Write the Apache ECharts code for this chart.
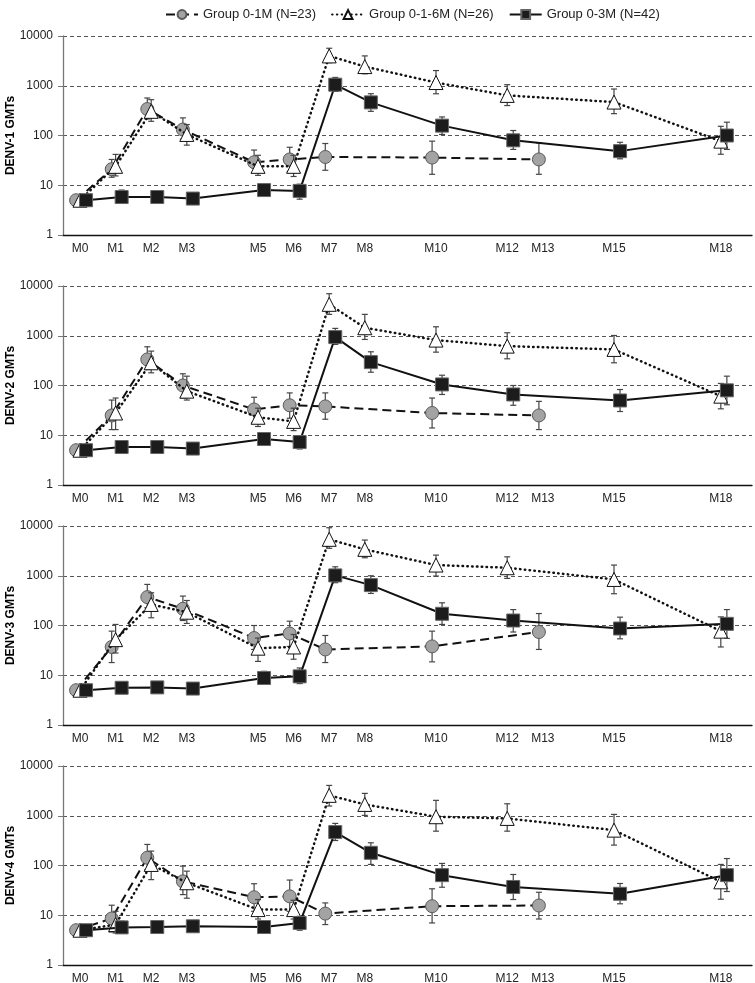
<!DOCTYPE html>
<html><head><meta charset="utf-8">
<script src="https://cdn.jsdelivr.net/npm/echarts@6/dist/echarts.min.js"></script>
<style>html,body{margin:0;padding:0;background:#fff}#c{width:755px;height:983px}</style>
</head><body><div id="c"></div>
<script>
// ---- tick labels / categories ----
const monthTicks = [0,1,2,3,5,6,7,8,10,12,13,15,18];
const seriesNames = ['Group 0-1M (N=23)','Group 0-1-6M (N=26)','Group 0-3M (N=42)'];
const panelTitles = ['DENV-1 GMTs','DENV-2 GMTs','DENV-3 GMTs','DENV-4 GMTs'];

// ---- sampling months per group ----
const g1Months  = [0,1,2,3,5,6,7,10,13];
const g16Months = [0,1,2,3,5,6,7,8,10,12,15,18];
const g3Months  = [0,1,2,3,5,6,7,8,10,12,15,18];

// ---- DENV-1 ----
const d1_g1   = [5, 21, 340, 132, 29, 33, 37, 36, 33];
const d1_g1Lo = [5, 14.5, 215, 85, 18, 19, 20, 16.6, 16.6];
const d1_g1Hi = [5, 33, 567, 226, 51, 58, 69, 77, 71];
const d1_g16   = [5, 24, 306, 105, 24, 24, 3980, 2430, 1160, 640, 470, 77];
const d1_g16Lo = [5, 15.4, 193, 64, 15.8, 15, 2900, 1740, 690, 400, 275, 42];
const d1_g16Hi = [5, 41.7, 525, 166, 40, 40, 5670, 3980, 2020, 1050, 860, 153];
const d1_g3   = [5, 5.8, 5.8, 5.4, 8.0, 7.7, 1050, 463, 158, 80, 48.5, 100];
const d1_g3Lo = [5, 4.4, 4.8, 4.6, 6.3, 5.25, 770, 306, 105, 52.5, 34, 52.5];
const d1_g3Hi = [5, 8.0, 7.0, 6.3, 10.2, 10.5, 1470, 692, 236, 126, 73, 185];

// ---- DENV-2 ----
const d2_g1   = [5, 25, 334, 100, 33, 40, 38, 28, 25];
const d2_g1Lo = [5, 13, 210, 56, 18, 22, 21, 14, 13];
const d2_g1Hi = [5, 51, 600, 172, 58, 71, 71, 56, 48];
const d2_g16   = [5, 28, 286, 77, 23, 19, 4280, 1450, 818, 619, 531, 61];
const d2_g16Lo = [5, 13, 180, 51, 15, 12.4, 2690, 843, 468, 344, 286, 34];
const d2_g16Hi = [5, 56, 491, 154, 35, 35, 7000, 2690, 1514, 1148, 1012, 110];
const d2_g3   = [5, 5.8, 5.8, 5.4, 8.4, 7.3, 940, 295, 105, 66, 50, 80];
const d2_g3Lo = [5, 4.5, 4.8, 4.7, 6.5, 5.3, 670, 185, 66, 40, 30, 41];
const d2_g3Hi = [5, 7.5, 6.9, 6.2, 10.8, 9.8, 1406, 476, 161, 100, 83, 154];

// ---- DENV-3 ----
const d3_g1   = [5, 37, 372, 217, 56, 69, 33, 38, 74];
const d3_g1Lo = [5, 18, 227, 126, 33, 38, 18, 18.6, 33];
const d3_g1Hi = [5, 77, 670, 390, 100, 122, 63, 77, 174];
const d3_g16   = [5, 52, 265, 185, 35, 37, 5400, 3390, 1640, 1450, 843, 77];
const d3_g16Lo = [5, 28, 143, 110, 19, 21, 3560, 2300, 985, 884, 435, 37];
const d3_g16Hi = [5, 105, 455, 318, 56, 66, 9240, 5220, 2600, 2400, 1640, 149];
const d3_g3   = [5, 5.6, 5.7, 5.4, 8.8, 9.5, 1016, 648, 172, 126, 87, 108];
const d3_g3Lo = [5, 4.5, 4.8, 4.7, 6.7, 6.8, 725, 441, 105, 74, 54, 55];
const d3_g3Hi = [5, 7.2, 6.8, 6.2, 12, 14, 1514, 1000, 286, 209, 147, 209];

// ---- DENV-4 ----
const d4_g1   = [5, 8.6, 143, 48, 23, 24, 10.8, 15.2, 15.7];
const d4_g1Lo = [5, 4.6, 83, 26, 12, 12, 6.5, 7, 8.4];
const d4_g1Hi = [5, 15.9, 265, 97, 43, 51, 17.7, 34, 29];
const d4_g16   = [5, 6.5, 105, 45, 13, 13, 2570, 1690, 956, 884, 514, 47];
const d4_g16Lo = [5, 4.4, 52, 22, 8.4, 8.4, 1567, 1016, 490, 490, 257, 21];
const d4_g16Hi = [5, 12, 195, 77, 20.7, 20, 4070, 2815, 2040, 1740, 1064, 105];
const d4_g3   = [5, 5.7, 5.8, 6.0, 5.8, 7.0, 469, 180, 64, 37, 27, 64];
const d4_g3Lo = [5, 4.4, 4.9, 5.0, 4.9, 5.0, 318, 105, 36.6, 20.7, 17, 30];
const d4_g3Hi = [5, 7.6, 6.9, 7.2, 6.9, 9.5, 702, 286, 110, 66, 43.5, 138];

const panels = [
  {g1:[d1_g1,d1_g1Lo,d1_g1Hi], g16:[d1_g16,d1_g16Lo,d1_g16Hi], g3:[d1_g3,d1_g3Lo,d1_g3Hi]},
  {g1:[d2_g1,d2_g1Lo,d2_g1Hi], g16:[d2_g16,d2_g16Lo,d2_g16Hi], g3:[d2_g3,d2_g3Lo,d2_g3Hi]},
  {g1:[d3_g1,d3_g1Lo,d3_g1Hi], g16:[d3_g16,d3_g16Lo,d3_g16Hi], g3:[d3_g3,d3_g3Lo,d3_g3Hi]},
  {g1:[d4_g1,d4_g1Lo,d4_g1Hi], g16:[d4_g16,d4_g16Lo,d4_g16Hi], g3:[d4_g3,d4_g3Lo,d4_g3Hi]}
];

// ---- styling ----
const gridTops = [36, 286, 526, 766];
const gridH = 199;
const FONT = 'Liberation Sans, Arial, sans-serif';
const groupStyle = {
  g1:  {months:g1Months,  off:-0.11, name:seriesNames[0], symbol:'circle',   size:13,
        item:{color:'#a3a3a3', borderColor:'#5a5a5a', borderWidth:1},
        line:{color:'#111', width:2, type:[9,5]}, z:2},
  g16: {months:g16Months, off:0,     name:seriesNames[1], symbol:'triangle', size:14,
        item:{color:'#fff', borderColor:'#111', borderWidth:1},
        line:{color:'#111', width:2.5, type:[0.5,4.3], cap:'round'}, z:3},
  g3:  {months:g3Months,  off:0.17,  name:seriesNames[2], symbol:'rect',     size:13,
        item:{color:'#1c1c1c', borderColor:'#666', borderWidth:1},
        line:{color:'#111', width:2, type:'solid'}, z:4}
};

const grids=[], xAxes=[], yAxes=[], series=[];
panels.forEach((p, i) => {
  grids.push({left:63, right:3, top:gridTops[i], height:gridH, containLabel:false, outerBoundsMode:'none'});
  xAxes.push({
    type:'value', gridIndex:i, min:-0.4775, max:18.876,
    axisLine:{show:true, onZero:false, lineStyle:{color:'#111', width:1.3}},
    axisTick:{show:false}, splitLine:{show:false},
    axisLabel:{customValues:monthTicks, formatter:v=>'M'+v, fontSize:12, color:'#222', fontFamily:FONT, margin:8}
  });
  yAxes.push({
    type:'log', logBase:10, gridIndex:i, min:1, max:10000,
    name:panelTitles[i], nameLocation:'middle', nameGap:46, nameRotate:90, nameMoveOverlap:false,
    nameTextStyle:{fontWeight:'bold', fontSize:12, color:'#000', fontFamily:FONT},
    axisLine:{show:true, onZero:false, lineStyle:{color:'#777', width:1.3}},
    axisTick:{show:true, length:5, lineStyle:{color:'#777'}},
    axisLabel:{fontSize:12, color:'#222', fontFamily:FONT, margin:10, formatter:v=>String(Math.round(v))},
    splitLine:{show:true, lineStyle:{color:'#555', type:[4,3], width:1}},
    minorTick:{show:false}
  });
  ['g1','g16','g3'].forEach(k => {
    const st = groupStyle[k];
    const [v, lo, hi] = p[k];
    const pts = st.months.map((m, j) => [m + st.off, v[j]]);
    const bars = st.months.map((m, j) => [m + st.off, lo[j], hi[j]]);
    series.push({
      type:'custom', xAxisIndex:i, yAxisIndex:i, z:st.z, silent:true,
      encode:{x:0, y:[1,2]}, data:bars,
      renderItem:(params, api) => {
        const x = api.value(0), l = api.value(1), h = api.value(2);
        if (!(h > l)) return null;
        const a = api.coord([x, h]), b = api.coord([x, l]);
        const s = {stroke:'#454545', lineWidth:1.2};
        return {type:'group', children:[
          {type:'line', shape:{x1:a[0], y1:a[1], x2:b[0], y2:b[1]}, style:s},
          {type:'line', shape:{x1:a[0]-3, y1:a[1], x2:a[0]+3, y2:a[1]}, style:s},
          {type:'line', shape:{x1:b[0]-3, y1:b[1], x2:b[0]+3, y2:b[1]}, style:s}
        ]};
      }
    });
    series.push({
      type:'line', name:st.name, xAxisIndex:i, yAxisIndex:i, z:st.z,
      data:pts, symbol:st.symbol, symbolSize:st.size, showAllSymbol:true,
      itemStyle:st.item, lineStyle:st.line, animation:false
    });
  });
});

const chart = echarts.init(document.getElementById('c'), null, {renderer:'canvas'});
chart.setOption({
  animation:false,
  backgroundColor:'#fff',
  textStyle:{fontFamily:FONT},
  legend:{data:seriesNames, top:3, left:160, itemWidth:32, itemHeight:11, itemGap:15,
          textStyle:{fontSize:13, color:'#222', fontFamily:FONT}},
  grid:grids, xAxis:xAxes, yAxis:yAxes, series:series
});
</script></body></html>
